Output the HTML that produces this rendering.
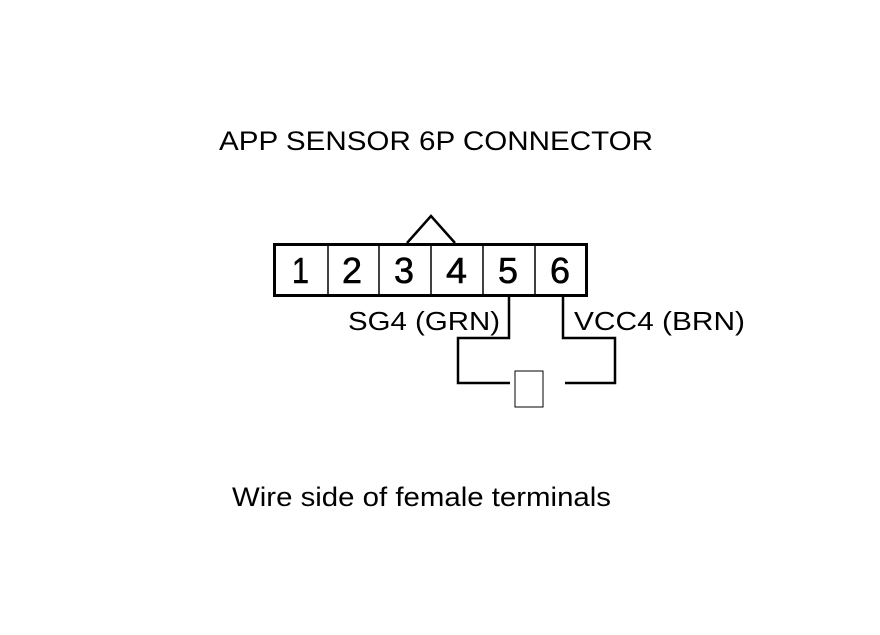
<!DOCTYPE html>
<html><head><style>
body{margin:0;background:#fff;}
text{font-family:"Liberation Sans",Arial,sans-serif;fill:#000;}
</style></head><body>
<svg width="880" height="630" xmlns="http://www.w3.org/2000/svg">
<rect width="880" height="630" fill="#fff"/>
<text x="219" y="150" font-size="27" textLength="434" lengthAdjust="spacingAndGlyphs">APP SENSOR 6P CONNECTOR</text>
<polyline points="407,243 431,216 455,243" fill="none" stroke="#000" stroke-width="2.5"/>
<rect x="274.5" y="244.5" width="312" height="51" fill="none" stroke="#000" stroke-width="3"/>
<g stroke="#000" stroke-width="1.5">
<line x1="328" y1="244" x2="328" y2="296"/>
<line x1="379" y1="244" x2="379" y2="296"/>
<line x1="431" y1="244" x2="431" y2="296"/>
<line x1="483" y1="244" x2="483" y2="296"/>
<line x1="535" y1="244" x2="535" y2="296"/>
</g>
<g font-size="36" stroke="#000" stroke-width="0.6">
<text x="292" y="283" textLength="17" lengthAdjust="spacingAndGlyphs">1</text>
<text x="342" y="283" textLength="20" lengthAdjust="spacingAndGlyphs">2</text>
<text x="394" y="283" textLength="20" lengthAdjust="spacingAndGlyphs">3</text>
<text x="446" y="283" textLength="21" lengthAdjust="spacingAndGlyphs">4</text>
<text x="498" y="283" textLength="20" lengthAdjust="spacingAndGlyphs">5</text>
<text x="550" y="283" textLength="20" lengthAdjust="spacingAndGlyphs">6</text>
</g>
<g fill="none" stroke="#000" stroke-width="2.5">
<polyline points="509,297 509,338 458,338 458,383 510,383"/>
<polyline points="563,297 563,338 615,338 615,383 565,383"/>
</g>
<rect x="515" y="371" width="28" height="36" fill="none" stroke="#000" stroke-width="1"/>
<text x="348" y="330" font-size="26" textLength="152" lengthAdjust="spacingAndGlyphs">SG4 (GRN)</text>
<text x="574" y="330" font-size="26" textLength="171" lengthAdjust="spacingAndGlyphs">VCC4 (BRN)</text>
<text x="232" y="506" font-size="27" textLength="379" lengthAdjust="spacingAndGlyphs">Wire side of female terminals</text>
</svg>
</body></html>
